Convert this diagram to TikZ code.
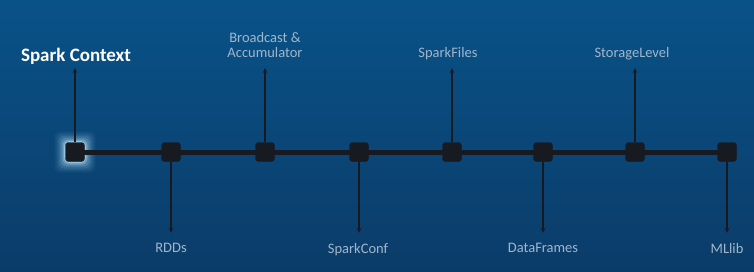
\documentclass[tikz,border=0pt]{standalone}
\usepackage{fontspec}
\setmainfont{Carlito}
\usepackage{tikz}
\usetikzlibrary{arrows.meta,positioning}

\definecolor{bgtop}{RGB}{9,82,136}
\definecolor{bgbot}{RGB}{11,60,105}
\definecolor{ink}{RGB}{24,26,34}
\definecolor{lbl}{RGB}{160,182,202}
\definecolor{glow}{RGB}{190,235,255}

\begin{document}
\begin{tikzpicture}[x=1pt,y=-1pt,
  blk/.style={draw=ink,fill=ink,rounded corners=3pt,minimum size=19pt,inner sep=0pt},
  lab/.style={text=lbl,font=\fontsize{14.5}{15}\selectfont,align=center,text depth=0pt,inner xsep=2pt,inner ysep=10pt},
  arr/.style={-{Stealth[length=5pt,width=4.5pt]},ink,line width=1.3pt},
  bar/.style={ink,line width=5pt}
]
\useasboundingbox (0,0) rectangle (754,271);
\shade[top color=bgtop,bottom color=bgbot] (0,0) rectangle (754,271);

% halo round the first block
\foreach \r/\o in {11/0.05,9/0.08,7/0.12,5/0.18,3/0.3,1.5/0.45}
  \fill[glow,opacity=\o,rounded corners=6pt] (75-9.5-\r,152-9.5-\r) rectangle (75+9.5+\r,152+9.5+\r);

\draw[bar] (75,152) -- (727,152);
\node[blk] (ctx)  at (75,152)  {};
\node[blk] (rdd)  at (171,152) {};
\node[blk] (bc)   at (265,152) {};
\node[blk] (conf) at (359,152) {};
\node[blk] (sf)   at (452,152) {};
\node[blk] (df)   at (543,152) {};
\node[blk] (sl)   at (635,152) {};
\node[blk] (ml)   at (727,152) {};

% labels above
\node[anchor=south,text=white,font=\fontsize{19}{21}\selectfont\bfseries,text depth=0pt,inner xsep=2pt,inner ysep=6pt] (lctx) at (76,68) {Spark Context};
\node[lab,anchor=south] (lbc) at (265,68) {Broadcast \&\\Accumulator};
\node[lab,anchor=south] (lsf) at (448,68) {SparkFiles};
\node[lab,anchor=south] (lsl) at (632,68) {StorageLevel};
% labels below
\node[lab,anchor=north] (lrdd)  at (171,233) {RDDs};
\node[lab,anchor=north] (lconf) at (358,233) {SparkConf};
\node[lab,anchor=north] (ldf)   at (543,233) {DataFrames};
\node[lab,anchor=north] (lml)   at (727,233) {MLlib};

\draw[arr] (ctx.north) -- (ctx.north |- lctx.south);
\draw[arr] (bc.north) -- (bc.north |- lbc.south);
\draw[arr] (sf.north) -- (sf.north |- lsf.south);
\draw[arr] (sl.north) -- (sl.north |- lsl.south);
\draw[arr] (rdd.south) -- (rdd.south |- lrdd.north);
\draw[arr] (conf.south) -- (conf.south |- lconf.north);
\draw[arr] (df.south) -- (df.south |- ldf.north);
\draw[arr] (ml.south) -- (ml.south |- lml.north);
\end{tikzpicture}
\end{document}
